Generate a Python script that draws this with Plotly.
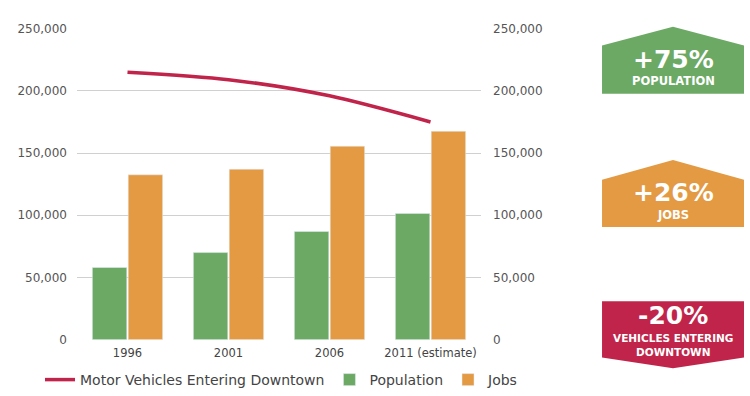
import plotly.graph_objects as go

years = ["1996", "2001", "2006", "2011 (estimate)"]
vehicles = [215000, 209000, 196000, 175000]
population = [58000, 70000, 87000, 101500]
jobs = [132500, 137000, 155500, 167500]
tick_vals = [0, 50000, 100000, 150000, 200000, 250000]
tick_text = ["0", "50,000", "100,000", "150,000", "200,000", "250,000"]

badge_pop = ("+75%", "POPULATION")
badge_jobs = ("+26%", "JOBS")
badge_veh = ("-20%", "VEHICLES ENTERING<br>DOWNTOWN")

GREEN = "#6ca965"
ORANGE = "#e39a43"
RED = "#c1244a"
FONT = "DejaVu Sans"
BADGE_FONT = "DejaVu Sans"

W, H = 750, 396
PL, PR, PT, PB = 77, 481, 29, 344  # plot area in pixels


def px(x):
    return x / W


def py(y):
    return 1 - y / H


def path(pts):
    return "M " + " L ".join(f"{px(a):.4f},{py(b):.4f}" for a, b in pts) + " Z"


fig = go.Figure()
fig.add_trace(go.Scatter(x=years, y=vehicles, mode="lines", name="Motor Vehicles Entering Downtown",
                         line=dict(color=RED, width=3.5, shape="spline", smoothing=0.8), yaxis="y2"))
fig.add_trace(go.Bar(x=years, y=population, name="Population", marker_color=GREEN))
fig.add_trace(go.Bar(x=years, y=jobs, name="Jobs", marker_color=ORANGE))

shapes = [
    dict(type="path", xref="paper", yref="paper", line_width=0, fillcolor=GREEN, layer="below",
         path=path([(602, 95), (602, 46), (673, 27), (744, 46), (744, 95)])),
    dict(type="path", xref="paper", yref="paper", line_width=0, fillcolor=ORANGE, layer="below",
         path=path([(602, 230), (602, 182), (673, 162), (744, 182), (744, 230)])),
    dict(type="path", xref="paper", yref="paper", line_width=0, fillcolor=RED, layer="below",
         path=path([(602, 305), (744, 305), (744, 362), (673, 373), (602, 362)])),
]

annotations = []


def txt(s, y, size):
    annotations.append(dict(x=px(673), y=py(y), xref="paper", yref="paper", text=f"<b>{s}</b>",
                            showarrow=False, font=dict(family=BADGE_FONT, size=size, color="white"),
                            xanchor="center", yanchor="middle", borderpad=0))


txt(badge_pop[0], 60, 25)
txt(badge_pop[1], 82, 11.5)
txt(badge_jobs[0], 195, 25)
txt(badge_jobs[1], 218, 11.5)
txt(badge_veh[0], 320, 25)
txt(badge_veh[1], 349, 10.5)

axis_common = dict(range=[0, 250000], tickvals=tick_vals, ticktext=tick_text,
                   tickfont=dict(family=FONT, size=12, color="#555555"), zeroline=False,
                   automargin=False, ticks="", domain=[1 - PB / H, 1 - PT / H])

fig.update_layout(
    width=W, height=H,
    margin=dict(l=0, r=0, t=0, b=0),
    paper_bgcolor="white", plot_bgcolor="white",
    barmode="group", bargap=0.29, bargroupgap=0.04,
    font=dict(family=FONT, color="#555555"),
    xaxis=dict(tickfont=dict(family=FONT, size=11.5, color="#444444"), showgrid=False, showline=False,
               ticks="", automargin=False, domain=[PL / W, PR / W], ticklabelstandoff=5),
    yaxis=dict(**axis_common, showgrid=True, gridcolor="#d0d0d0", gridwidth=1,
               ticklabelstandoff=9),
    yaxis2=dict(**axis_common, overlaying="y", side="right", showgrid=False, anchor="x",
                ticklabelstandoff=11),
    legend=dict(orientation="h", x=px(40), y=py(385), xanchor="left", yanchor="middle",
                font=dict(family=FONT, size=14, color="#444444"), traceorder="normal",
                itemwidth=30),
    showlegend=True,
    shapes=shapes,
    annotations=annotations,
)

fig.write_html("out.html", config={"displayModeBar": False, "responsive": False},
               post_script=("document.body.style.margin='0px';"
                            "document.body.style.overflow='hidden';"
                            "document.documentElement.style.overflow='hidden';"))
